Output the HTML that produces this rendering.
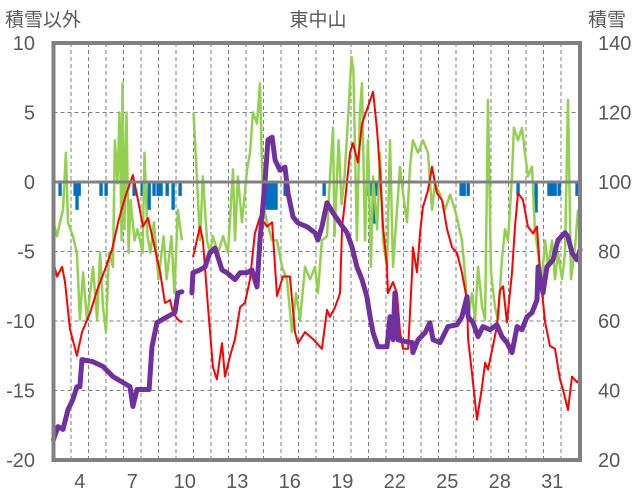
<!DOCTYPE html>
<html><head><meta charset="utf-8"><style>
html,body{margin:0;padding:0;background:#fff;}
svg{display:block;font-family:"Liberation Sans","Noto Sans CJK JP",sans-serif;}
</style></head><body>
<svg id="chart" width="636" height="501" viewBox="0 0 636 501">
<g id="grid"></g>
<g id="bars"></g>
<g id="lines"></g>
<g id="axes"></g>
<text x="5" y="26" font-size="19" fill="#595959">積雪以外</text>
<text x="318" y="26" font-size="19" fill="#595959" text-anchor="middle">東中山</text>
<text x="588" y="26" font-size="19" fill="#595959">積雪</text>
</svg>
<script>
const leftTicks=[10,5,0,-5,-10,-15,-20];
const rightTicks=[140,120,100,80,60,40,20];
const xLabels=[4,7,10,13,16,19,22,25,28,31];
const redDays=[3.0,3.2,3.49,3.66,3.94,4.34,4.63,5.09,5.54,5.94,6.34,6.69,7.09,7.54,7.83,8.11,8.4,8.69,9.09,9.37,9.66,9.83,10.11,10.34,null,10.97,11.37,11.54,11.83,12.11,12.34,12.63,12.8,13.09,13.37,13.66,13.94,14.23,14.51,14.8,15.2,15.49,15.77,16.11,16.51,16.8,16.97,17.37,17.83,18.34,18.63,18.8,19.09,19.37,19.49,19.66,19.94,20.11,20.4,20.63,20.91,21.26,21.49,21.66,21.83,22.06,22.11,22.4,22.63,22.8,22.97,23.26,23.49,23.54,23.77,23.94,24.11,24.4,24.63,24.91,25.2,25.49,25.77,26.06,26.34,26.63,26.69,26.91,27.2,27.49,27.66,27.83,28.11,28.34,28.51,28.69,28.91,29.2,29.37,29.54,29.83,30.11,30.4,30.63,30.8,31.09,31.37,31.66,31.94,32.11,32.4,32.63,32.91,33.09];
const redVals=[-5.8,-6.8,-6.1,-7.2,-10.6,-12.5,-10.8,-9.4,-7.6,-6.3,-4.9,-2.9,-1.1,0.5,-1.3,-3.2,-2.6,-4.2,-6.5,-8.7,-8.5,-9.4,-9.9,-10.1,null,-5.4,-3.2,-4.2,-9,-13.3,-14.2,-11.6,-14,-12.5,-11.3,-9,-8.7,-7,-3.7,-2.5,-3.2,-2.9,-8.2,-6.8,-6.8,-10.8,-11.6,-10.8,-11.3,-12,-9.2,-9.7,-9,-8,-3.2,-1.3,2.1,2.8,1.4,4.2,5.2,6.5,3.7,0.6,-3.2,-6.1,-8,-7.2,-8,-10.8,-12,-12,-6.5,-4.7,-6.5,-3.7,-1.8,-0.6,1.1,-0.8,-1.3,-3.4,-4.7,-5.1,-6.5,-8.5,-11.3,-13.7,-17.1,-14.7,-13,-13.5,-11.8,-10.4,-7.8,-7.5,-10.1,-6.5,-3.2,-0.8,-1.3,-3.2,-3.7,-3.2,-6.5,-10.1,-11.8,-12,-14.2,-14.9,-16.4,-14,-14.4,-14.2];
const snowDays=[3.0,3.26,3.54,3.83,4.11,4.34,4.51,4.63,5.26,5.83,6.4,6.97,7.37,7.54,7.77,8.11,8.46,8.63,8.91,9.49,9.94,10.11,10.34,null,10.91,10.97,11.37,11.66,11.94,12.23,12.63,12.91,13.37,13.66,14.06,14.34,14.63,14.8,15.09,15.26,15.49,15.66,15.94,16.23,16.4,16.69,16.97,17.49,17.94,18.11,18.34,18.63,18.97,19.37,19.77,20.06,20.34,20.63,20.91,21.09,21.26,21.54,22.06,22.23,22.4,22.51,22.69,23.2,23.49,23.54,23.83,24.23,24.51,24.69,25.09,25.54,26.06,26.34,26.63,26.69,26.97,27.26,27.54,27.94,28.34,28.63,28.91,29.2,29.49,29.77,30.06,30.34,30.63,30.69,30.97,31.2,31.54,31.83,32.23,32.4,32.63,32.91,33.09];
const snowVals=[25.9,29.6,28.8,34.5,37.4,41.1,41.1,48.9,48.3,46.9,44.0,42.3,41.1,35.4,40.3,40.3,40.3,52.6,59.5,61.2,62.4,68.1,68.4,null,68.1,73.9,74.7,75.6,79.6,81.0,74.7,73.9,71.9,73.9,73.9,74.7,69.8,83.3,100.6,112.1,112.9,106.3,103.4,104.3,96.8,89.9,88.2,87.1,85.4,83.3,87.1,94.0,91.1,88.2,85.4,81.3,75.6,71.9,67.0,61.2,56.6,52.6,52.6,61.2,54.6,68.1,54.6,54.0,53.8,50.9,54.6,56.6,59.5,54.6,53.8,58.4,58.9,61.2,67.0,61.2,59.5,55.5,58.4,57.5,58.9,55.5,53.8,50.9,58.4,57.5,61.2,62.4,66.1,75.6,68.1,75.6,77.6,83.3,85.4,84.2,79.6,77.6,80.5];
const greenDays=[3.0,3.2,3.37,3.54,3.71,3.83,4.11,4.34,4.51,4.69,4.91,5.09,5.26,5.49,5.66,5.83,6.0,6.17,6.4,6.51,6.66,6.77,6.89,6.94,7.06,7.17,7.29,7.4,7.63,7.8,8.09,8.2,8.37,8.54,8.74,9.0,9.29,9.46,9.74,9.91,10.11,10.34,null,11.0,11.17,11.37,11.54,11.77,11.94,12.11,12.4,12.69,12.97,13.26,13.37,13.54,13.77,14.06,14.23,14.4,14.63,14.8,14.97,15.2,15.49,15.77,16.06,16.34,16.63,16.86,17.09,17.37,17.66,17.94,18.11,18.34,18.63,18.8,18.97,19.06,19.29,19.46,19.63,19.8,20.03,20.14,20.34,20.51,20.63,20.8,20.97,21.14,21.26,21.49,21.66,21.83,22.06,22.23,22.4,22.63,22.8,22.97,23.2,23.37,23.54,23.83,24.11,24.4,24.63,24.8,25.09,25.37,25.66,25.94,26.11,26.34,26.51,26.69,26.91,27.09,27.26,27.49,27.66,27.83,28.0,28.23,28.4,28.63,28.8,28.97,29.2,29.31,29.54,29.77,29.94,30.11,30.34,30.51,30.69,30.91,31.09,31.26,31.49,31.66,31.83,32.06,32.23,32.4,32.57,32.8,32.97];
const greenVals=[-2.9,-3.9,-2.9,-2.0,2.1,-2.9,-3.9,-5.1,-9.9,-6.5,-9.9,-8,-6.1,-9.9,-5.1,-9.0,-10.8,-5.1,-6.1,3.0,-0.1,5.0,-4.2,7.1,-3.4,5.0,-5.1,-1.3,-4.2,-3.4,-5.1,2.1,-3.9,-5.1,-2.9,-7.0,-3.9,-7.0,-3.9,-8,-2.0,-4.2,null,5.0,0.9,-4.2,0.4,-4.2,-5.1,-3.9,-5.1,-3.9,-5.1,0.9,-4.2,0.4,-2.9,0.9,2.1,5.0,4.2,7.1,-1.6,-2.9,-4.2,-4.2,-6.1,-7.0,-10.8,-8,-9.9,-6.1,-7.0,-6.1,-8,-4.2,-3.9,0.4,3.9,-3.9,3.0,-1.6,0.4,3.9,9.0,8.0,-4.2,5.0,7.1,-4.2,3.0,-6.1,0.4,-3.4,2.1,-4.2,-6.1,3.0,-6.1,-2.0,1.1,-0.8,-2.9,1.1,3.0,2.1,3.0,2.1,-2.0,-0.1,-0.9,-2.0,-0.9,-2.0,-2.9,-4.2,-6.5,-9.9,-8,-9.9,-6.1,-9.0,-9.9,5.9,-6.5,-9,-9.9,-5.5,-3.4,-4.2,0.4,3.9,3.0,3.9,2.1,0.4,1.1,-3.4,-5.1,-7.0,-4.2,-6.1,-4.2,-7.0,-5.1,-7.0,-5.1,5.9,-7.0,-4.7,-2.0];
const barDays=[3.37,4.23,4.34,4.46,5.71,6.0,7.6,8.06,8.17,8.46,8.74,8.97,9.14,9.49,9.83,10.23,11.54,15.03,15.2,15.37,15.54,15.71,16.23,18.46,21.03,21.2,21.31,21.49,26.29,26.46,26.69,29.54,30.57,31.31,31.49,31.66,31.89,32.91];
const barVals=[-1,-1,-2,-1,-1,-1,-1,-1,-1,-2,-1,-1,-1,-1,-2,-1,-1,-1,-2,-2,-2,-2,-1,-1,-1,-1,-3,-1,-1,-1,-1,-1,-2.2,-1,-1,-1,-1,-1];

const NS='http://www.w3.org/2000/svg';
const X0=53.5,DX=17.5,D0=3,YT=43,YB=460;
function xs(d){return X0+(d-D0)*DX;}
function yl(v){return YT+(10-v)*(YB-YT)/30;}
function yr(v){return YT+(140-v)*(YB-YT)/120;}
function mk(tag,attrs,parent){const e=document.createElementNS(NS,tag);for(const k in attrs)e.setAttribute(k,attrs[k]);parent.appendChild(e);return e;}
const grid=document.getElementById('grid'),axes=document.getElementById('axes'),bars=document.getElementById('bars'),lines=document.getElementById('lines');

for(let d=4;d<=33;d++){
  const g=mk('line',{x1:xs(d),x2:xs(d),y1:YT,y2:YB,stroke:'#7f7f7f','stroke-width':1,'stroke-dasharray':'4,3'},grid);
  
  
}
leftTicks.forEach(v=>{
  if(v!==0&&v!==10&&v!==-20){
    const g=mk('line',{x1:X0,x2:580,y1:yl(v),y2:yl(v),stroke:'#7f7f7f','stroke-width':1,'stroke-dasharray':'4,3'},grid);
    
    
  }
  const t=mk('text',{x:35,y:yl(v)+7,'font-size':20,fill:'#595959','text-anchor':'end'},axes);
  t.textContent=v;
  
  
});
rightTicks.forEach(v=>{
  const t=mk('text',{x:598,y:yr(v)+7,'font-size':20,fill:'#595959'},axes);
  t.textContent=v;
  
  
});
xLabels.forEach(d=>{
  const t=mk('text',{x:xs(d+0.5),y:488,'font-size':20,fill:'#595959','text-anchor':'middle'},axes);
  t.textContent=d;
  
  
});
barDays.forEach((d,i)=>{
  const y0=yl(0),y1=yl(barVals[i]);
  const r=mk('rect',{x:xs(d)-1.6,y:y0,width:3.4,height:y1-y0,fill:'#0070C0'},bars);
  
  
});
function path(days,vals,yf){
  let s='',pen=false;
  days.forEach((d,i)=>{
    if(d===null||vals[i]===null){pen=false;return;}
    s+=(pen?'L':'M')+xs(d).toFixed(1)+' '+yf(vals[i]).toFixed(1)+' ';pen=true;
  });
  return s;
}
const pg=mk('path',{d:path(greenDays,greenVals,yl),fill:'none',stroke:'#92D050','stroke-width':2.5,'stroke-linejoin':'round'},lines);


const pr=mk('path',{d:path(redDays,redVals,yl),fill:'none',stroke:'#FF0000','stroke-width':2,'stroke-linejoin':'round'},lines);


const pp=mk('path',{d:path(snowDays,snowVals,yr),fill:'none',stroke:'#7030A0','stroke-width':5,'stroke-linejoin':'round','stroke-linecap':'round'},lines);


const z=mk('line',{x1:X0,x2:580,y1:yl(0),y2:yl(0),stroke:'#808080','stroke-width':3},axes);


const f=mk('rect',{x:X0,y:YT,width:580-X0,height:YB-YT,fill:'none',stroke:'#808080','stroke-width':4},axes);


</script>
</body></html>
